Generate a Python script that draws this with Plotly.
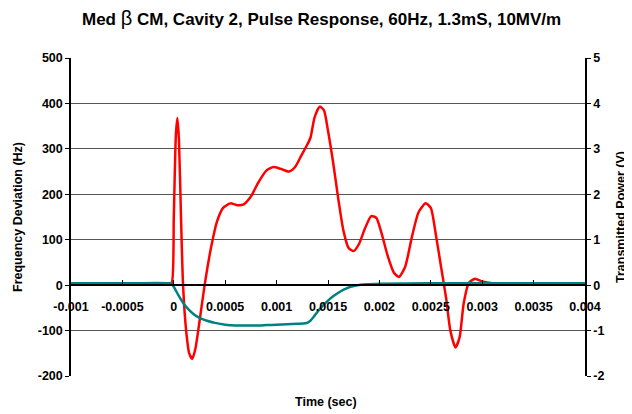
import plotly.graph_objects as go

# frequency deviation (Hz), left axis
freqTime = [-0.001, -0.0005, -0.00005, -0.00002, 0.0, 0.00002, 0.000035, 0.00005, 0.00007,
            0.00009, 0.00012, 0.00015, 0.00018, 0.00021, 0.00025, 0.0003, 0.00036, 0.00042,
            0.00048, 0.00055, 0.00062, 0.00068, 0.00075, 0.00082, 0.0009, 0.00097, 0.00104,
            0.00112, 0.00118, 0.00124, 0.0013, 0.00133, 0.00137, 0.00142, 0.00146, 0.0015,
            0.00155, 0.0016, 0.00165, 0.0017, 0.00175, 0.0018, 0.00186, 0.00192, 0.00197,
            0.00202, 0.00208, 0.00214, 0.00219, 0.00225, 0.00232, 0.00238, 0.00245, 0.0025,
            0.00255, 0.0026, 0.00265, 0.00269, 0.00274, 0.00278, 0.00282, 0.00287, 0.00293,
            0.003, 0.0031, 0.0035, 0.004]
freqDeviation = [2, 2, 2, 5, 150, 330, 368, 320, 150,
                 0, -100, -150, -162, -140, -80, 0, 80, 140,
                 170, 180, 176, 178, 195, 225, 252, 260, 256,
                 250, 260, 285, 310, 325, 370, 393, 385, 340,
                 270, 190, 120, 82, 75, 90, 125, 152, 148,
                 115, 65, 28, 18, 40, 110, 160, 180, 170,
                 110, 40, -30, -100, -137, -115, -40, 5, 14,
                 8, 4, 3, 3]

# transmitted power (V), right axis
powerTime = [-0.001, -0.0005, -0.00004, -0.00001, 0.00002, 0.00006, 0.0001, 0.00015, 0.0002,
             0.00026, 0.00033, 0.0004, 0.0005, 0.0006, 0.0007, 0.0008, 0.0009, 0.001, 0.0011,
             0.0012, 0.00128, 0.00132, 0.00136, 0.0014, 0.00145, 0.0015, 0.00156, 0.00162,
             0.00168, 0.00175, 0.00182, 0.0019, 0.002, 0.0025, 0.003, 0.0035, 0.004]
transmittedPower = [0.04, 0.04, 0.04, 0.0, -0.12, -0.28, -0.42, -0.55, -0.65,
                    -0.73, -0.79, -0.83, -0.87, -0.89, -0.89, -0.89, -0.88, -0.87, -0.86,
                    -0.85, -0.84, -0.8, -0.7, -0.58, -0.45, -0.34, -0.23, -0.14,
                    -0.07, -0.02, 0.01, 0.02, 0.03, 0.04, 0.04, 0.04, 0.04]

xTickVals = [-0.001, -0.0005, 0, 0.0005, 0.001, 0.0015, 0.002, 0.0025, 0.003, 0.0035, 0.004]
xTickText = ["-0.001", "-0.0005", "0", "0.0005", "0.001", "0.0015", "0.002",
             "0.0025", "0.003", "0.0035", "0.004"]
leftTickVals = [-200, -100, 0, 100, 200, 300, 400, 500]
leftTickText = ["-200", "-100", "0", "100", "200", "300", "400", "500"]
rightTickVals = [-2, -1, 0, 1, 2, 3, 4, 5]
rightTickText = ["-2", "-1", "0", "1", "2", "3", "4", "5"]

font = "Liberation Sans, Arial, sans-serif"
tickFont = dict(family=font, size=12.5, color="black", weight="bold")

fig = go.Figure()

fig.add_trace(go.Scatter(
    x=freqTime, y=freqDeviation, mode="lines",
    line=dict(color="#FF0000", width=2.5, shape="spline", smoothing=0.6),
    yaxis="y"
))

fig.add_trace(go.Scatter(
    x=powerTime, y=transmittedPower, mode="lines",
    line=dict(color="#008080", width=2.5, shape="spline", smoothing=0.6),
    yaxis="y2"
))

# page body keeps its default 8px margin, so the figure is 8px smaller
fig.update_layout(
    width=624, height=406,
    margin=dict(l=63, r=47, t=50, b=38, autoexpand=False),
    paper_bgcolor="white", plot_bgcolor="white",
    showlegend=False,
    font=dict(family=font, size=12, color="black"),
    xaxis=dict(
        range=[-0.001, 0.004], tickvals=xTickVals, ticktext=xTickText,
        anchor="free", position=2 / 7, showgrid=False, zeroline=False,
        showline=True, linecolor="black", linewidth=1.5,
        ticks="inside", ticklen=4, tickcolor="black",
        ticklabelstandoff=10, automargin=False,
        tickfont=tickFont,
    ),
    yaxis=dict(
        range=[-200, 500], tickvals=leftTickVals, ticktext=leftTickText,
        showgrid=True, gridcolor="#555555", gridwidth=1, zeroline=False,
        showline=True, linecolor="black", linewidth=1.5,
        ticks="outside", ticklen=4, tickcolor="black",
        automargin=False, tickfont=tickFont,
    ),
    yaxis2=dict(
        range=[-2, 5], tickvals=rightTickVals, ticktext=rightTickText,
        overlaying="y", side="right", anchor="x",
        showgrid=False, zeroline=False,
        showline=True, linecolor="black", linewidth=1.5,
        ticks="outside", ticklen=4, tickcolor="black",
        automargin=False, tickfont=tickFont,
    ),
)

fig.add_annotation(
    text="<b>Frequency Deviation (Hz)</b>", xref="paper", yref="paper",
    x=0, xshift=-53, y=0.5, textangle=-90,
    xanchor="center", yanchor="middle", showarrow=False,
    font=dict(family=font, size=12.5, color="black"),
)

fig.add_annotation(
    text="<b>Transmitted Power (V)</b>", xref="paper", yref="paper",
    x=1, xshift=36, y=0.5, textangle=-90,
    xanchor="center", yanchor="middle", showarrow=False,
    font=dict(family=font, size=12.5, color="black"),
)

fig.add_annotation(
    text="<b>Time (sec)</b>", xref="paper", yref="paper", x=0.5, y=0,
    yshift=-26, xshift=-2,
    xanchor="center", yanchor="middle", showarrow=False,
    font=dict(family=font, size=12.5, color="black"),
)

fig.add_annotation(
    text="<b>Med </b><span style='font-size:20px'>β</span>"
         "<b> CM, Cavity 2, Pulse Response, 60Hz, 1.3mS, 10MV/m</b>",
    xref="paper", yref="paper", x=0.5, y=1.0, yshift=40, xshift=-7,
    xanchor="center", yanchor="middle", showarrow=False,
    font=dict(family=font, size=17, color="black"),
)

fig.write_html("out.html")
